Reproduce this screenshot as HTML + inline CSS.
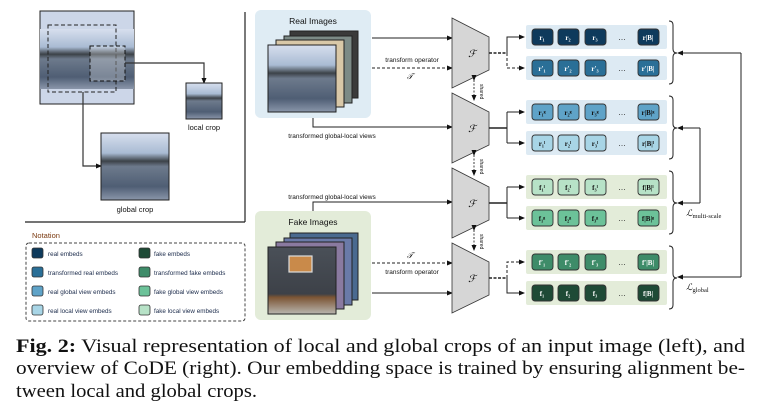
<!DOCTYPE html>
<html><head><meta charset="utf-8"><style>
html,body{margin:0;padding:0;background:#fff;}
svg{display:block;font-family:"Liberation Sans",sans-serif;}
.e{font-family:"Liberation Serif",serif;font-size:7px;font-weight:bold;text-anchor:middle;}
.s{font-size:6.3px;fill:#1a2a4a;}
</style></head><body>
<svg width="758" height="412" viewBox="0 0 758 412" xmlns="http://www.w3.org/2000/svg">
<defs>
<linearGradient id="lake" x1="0" y1="0" x2="0" y2="1">
<stop offset="0" stop-color="#d7dfee"/><stop offset="0.3" stop-color="#a9bbd3"/><stop offset="0.42" stop-color="#3c4248"/><stop offset="0.5" stop-color="#6d7a8c"/><stop offset="0.8" stop-color="#4f5e74"/><stop offset="1" stop-color="#8a96aa"/>
</linearGradient>
<linearGradient id="room" x1="0" y1="0" x2="0" y2="1">
<stop offset="0" stop-color="#4a5058"/><stop offset="0.7" stop-color="#3d4148"/><stop offset="0.75" stop-color="#7b5434"/><stop offset="1" stop-color="#b9b6b0"/>
</linearGradient>
<marker id="a" markerWidth="6" markerHeight="6" refX="5" refY="3" orient="auto" markerUnits="userSpaceOnUse"><path d="M0,0.5 L6,3 L0,5.5z" fill="#111"/></marker>
</defs>

<!-- LEFT PANEL -->
<rect x="40" y="11" width="94" height="93" fill="#ccd6e8" stroke="#222" stroke-width="1"/>
<rect x="40" y="29" width="94" height="60" fill="url(#lake)"/>
<rect x="48" y="25" width="68" height="67" fill="none" stroke="#222" stroke-dasharray="4,2.5" stroke-width="1"/>
<rect x="90" y="46" width="35" height="35" fill="rgba(255,255,255,0.25)" stroke="#111" stroke-dasharray="4,2.5" stroke-width="1"/>
<polyline points="125,63 204,63 204,83" fill="none" stroke="#333" stroke-width="1.2" marker-end="url(#a)"/>
<rect x="186" y="83" width="36" height="36" fill="url(#lake)" stroke="#222"/>
<text x="204" y="130" font-size="7.5" text-anchor="middle" fill="#111">local crop</text>
<polyline points="83,92 83,166 101,166" fill="none" stroke="#333" stroke-width="1.2" marker-end="url(#a)"/>
<rect x="101" y="133" width="68" height="67" fill="url(#lake)" stroke="#222"/>
<text x="135" y="212" font-size="7.5" text-anchor="middle" fill="#111">global crop</text>
<line x1="245" y1="12" x2="245" y2="222" stroke="#222" stroke-width="1.2"/>
<line x1="25" y1="222" x2="245" y2="222" stroke="#222" stroke-width="1.2"/>

<text x="32" y="238" font-size="7.5" fill="#7a3a10">Notation</text>
<rect x="26" y="243" width="219" height="78" rx="3" fill="none" stroke="#444" stroke-dasharray="3,2" stroke-width="1"/>
<g stroke="#333" stroke-width="0.8">
<rect x="32" y="248" width="11" height="10" rx="2" fill="#0e3a5c"/>
<rect x="32" y="267" width="11" height="10" rx="2" fill="#2a6f97"/>
<rect x="32" y="286" width="11" height="10" rx="2" fill="#5fa3c8"/>
<rect x="32" y="305" width="11" height="10" rx="2" fill="#a8d5e6"/>
<rect x="139" y="248" width="11" height="10" rx="2" fill="#1e4a36"/>
<rect x="139" y="267" width="11" height="10" rx="2" fill="#3e8c69"/>
<rect x="139" y="286" width="11" height="10" rx="2" fill="#6cc299"/>
<rect x="139" y="305" width="11" height="10" rx="2" fill="#b7e2c7"/>
</g>
<g class="s">
<text x="48" y="256">real embeds</text>
<text x="48" y="275">transformed real embeds</text>
<text x="48" y="294">real global view embeds</text>
<text x="48" y="313">real local view embeds</text>
<text x="154" y="256">fake embeds</text>
<text x="154" y="275">transformed fake embeds</text>
<text x="154" y="294">fake global view embeds</text>
<text x="154" y="313">fake local view embeds</text>
</g>

<!-- REAL IMAGES -->
<rect x="255" y="10" width="116" height="108" rx="6" fill="#dfecf4"/>
<text x="313" y="24" font-size="8.5" text-anchor="middle" fill="#111">Real Images</text>
<rect x="290" y="31" width="68" height="67" fill="#3a3a3a" stroke="#222"/>
<rect x="284" y="36" width="68" height="67" fill="#7c8a86" stroke="#222"/>
<rect x="276" y="40" width="68" height="67" fill="#d9c8a8" stroke="#222"/>
<rect x="268" y="45" width="68" height="67" fill="url(#lake)" stroke="#222"/>
<line x1="372" y1="38" x2="452" y2="38" stroke="#222" stroke-width="1" marker-end="url(#a)"/>
<line x1="372" y1="68" x2="452" y2="68" stroke="#222" stroke-width="1" stroke-dasharray="3,2" marker-end="url(#a)"/>
<text x="412" y="62" font-size="6.5" text-anchor="middle" fill="#111">transform operator</text>
<text x="410" y="79" font-size="8" font-style="italic" font-family="Liberation Serif,serif" text-anchor="middle">𝒯</text>
<polyline points="313,118 313,127 452,127" fill="none" stroke="#222" stroke-width="1" marker-end="url(#a)"/>
<text x="332" y="138" font-size="6.5" text-anchor="middle" fill="#111">transformed global-local views</text>

<!-- FAKE IMAGES -->
<polyline points="313,212 313,202 452,202" fill="none" stroke="#222" stroke-width="1" marker-end="url(#a)"/>
<text x="332" y="199" font-size="6.5" text-anchor="middle" fill="#111">transformed global-local views</text>
<rect x="255" y="211" width="116" height="109" rx="6" fill="#e3ecd9"/>
<text x="313" y="225" font-size="8.5" text-anchor="middle" fill="#111">Fake Images</text>
<rect x="290" y="233" width="68" height="67" fill="#4a6a90" stroke="#222"/>
<rect x="284" y="238" width="68" height="67" fill="#6a7aa8" stroke="#222"/>
<rect x="276" y="242" width="68" height="67" fill="#8a7aa0" stroke="#222"/>
<rect x="268" y="247" width="68" height="67" fill="url(#room)" stroke="#222"/>
<rect x="289" y="256" width="23" height="16" fill="#c98a4a" stroke="#ddd" stroke-width="1.2"/>
<line x1="372" y1="263" x2="452" y2="263" stroke="#222" stroke-width="1" stroke-dasharray="3,2" marker-end="url(#a)"/>
<line x1="372" y1="293" x2="452" y2="293" stroke="#222" stroke-width="1" marker-end="url(#a)"/>
<text x="410" y="258" font-size="8" font-style="italic" font-family="Liberation Serif,serif" text-anchor="middle">𝒯</text>
<text x="412" y="274" font-size="6.5" text-anchor="middle" fill="#111">transform operator</text>

<!-- ENCODERS -->
<g fill="#d6d6d6" stroke="#333" stroke-width="0.8">
<polygon points="452,18 489,37 489,70 452,88"/>
<polygon points="452,93 489,112 489,145 452,163"/>
<polygon points="452,168 489,187 489,220 452,238"/>
<polygon points="452,243 489,262 489,295 452,313"/>
</g>
<g font-family="Liberation Serif,serif" font-style="italic" font-size="10" text-anchor="middle">
<text x="472" y="57">ℱ</text><text x="472" y="132">ℱ</text><text x="472" y="207">ℱ</text><text x="472" y="282">ℱ</text>
</g>
<g stroke="#111" stroke-width="0.8" stroke-dasharray="2,1.5">
<line x1="474" y1="80" x2="474" y2="100" marker-start="url(#a)" marker-end="url(#a)"/>
<line x1="474" y1="155" x2="474" y2="175" marker-start="url(#a)" marker-end="url(#a)"/>
<line x1="474" y1="230" x2="474" y2="250" marker-start="url(#a)" marker-end="url(#a)"/>
</g>
<g font-size="5" fill="#111">
<text transform="translate(480,84) rotate(90)">shared</text>
<text transform="translate(480,159) rotate(90)">shared</text>
<text transform="translate(480,234) rotate(90)">shared</text>
</g>

<!-- BRANCHES -->
<g fill="none" stroke="#222" stroke-width="1">
<line x1="489" y1="53" x2="507" y2="53" stroke-dasharray="3,1.5" stroke-width="1.5"/>
<polyline points="507,53 507,37 524,37" marker-end="url(#a)"/>
<polyline points="507,53 507,68 524,68" stroke-dasharray="3,2" marker-end="url(#a)"/>
<line x1="489" y1="128" x2="507" y2="128" stroke-width="1.5"/>
<polyline points="507,112 507,143" /><line x1="507" y1="112" x2="524" y2="112" marker-end="url(#a)"/><line x1="507" y1="143" x2="524" y2="143" marker-end="url(#a)"/>
<line x1="489" y1="203" x2="507" y2="203" stroke-width="1.5"/>
<polyline points="507,187 507,218" /><line x1="507" y1="187" x2="524" y2="187" marker-end="url(#a)"/><line x1="507" y1="218" x2="524" y2="218" marker-end="url(#a)"/>
<line x1="489" y1="278" x2="507" y2="278" stroke-dasharray="3,1.5" stroke-width="1.5"/>
<polyline points="507,278 507,262 524,262" stroke-dasharray="3,2" marker-end="url(#a)"/>
<polyline points="507,278 507,293 524,293" marker-end="url(#a)"/>
</g>

<!-- ROWS -->
<g>
<rect x="526" y="25" width="141" height="24" rx="2" fill="#ddeaf3"/>
<rect x="526" y="56" width="141" height="24" rx="2" fill="#ddeaf3"/>
<rect x="526" y="100" width="141" height="24" rx="2" fill="#ddeaf3"/>
<rect x="526" y="131" width="141" height="24" rx="2" fill="#ddeaf3"/>
<rect x="526" y="175" width="141" height="24" rx="2" fill="#e3ecd9"/>
<rect x="526" y="206" width="141" height="24" rx="2" fill="#e3ecd9"/>
<rect x="526" y="250" width="141" height="24" rx="2" fill="#e3ecd9"/>
<rect x="526" y="281" width="141" height="24" rx="2" fill="#e3ecd9"/>
</g>
<g stroke="#333" stroke-width="0.9">
<g fill="#0e3a5c"><rect x="532" y="29" width="21" height="16" rx="3"/><rect x="558" y="29" width="21" height="16" rx="3"/><rect x="585" y="29" width="21" height="16" rx="3"/><rect x="638" y="29" width="21" height="16" rx="3"/></g>
<g fill="#2a6f97"><rect x="532" y="60" width="21" height="16" rx="3"/><rect x="558" y="60" width="21" height="16" rx="3"/><rect x="585" y="60" width="21" height="16" rx="3"/><rect x="638" y="60" width="21" height="16" rx="3"/></g>
<g fill="#5fa3c8"><rect x="532" y="104" width="21" height="16" rx="3"/><rect x="558" y="104" width="21" height="16" rx="3"/><rect x="585" y="104" width="21" height="16" rx="3"/><rect x="638" y="104" width="21" height="16" rx="3"/></g>
<g fill="#a8d5e6"><rect x="532" y="135" width="21" height="16" rx="3"/><rect x="558" y="135" width="21" height="16" rx="3"/><rect x="585" y="135" width="21" height="16" rx="3"/><rect x="638" y="135" width="21" height="16" rx="3"/></g>
<g fill="#b7e2c7"><rect x="532" y="179" width="21" height="16" rx="3"/><rect x="558" y="179" width="21" height="16" rx="3"/><rect x="585" y="179" width="21" height="16" rx="3"/><rect x="638" y="179" width="21" height="16" rx="3"/></g>
<g fill="#6cc299"><rect x="532" y="210" width="21" height="16" rx="3"/><rect x="558" y="210" width="21" height="16" rx="3"/><rect x="585" y="210" width="21" height="16" rx="3"/><rect x="638" y="210" width="21" height="16" rx="3"/></g>
<g fill="#3e8c69"><rect x="532" y="254" width="21" height="16" rx="3"/><rect x="558" y="254" width="21" height="16" rx="3"/><rect x="585" y="254" width="21" height="16" rx="3"/><rect x="638" y="254" width="21" height="16" rx="3"/></g>
<g fill="#1e4a36"><rect x="532" y="285" width="21" height="16" rx="3"/><rect x="558" y="285" width="21" height="16" rx="3"/><rect x="585" y="285" width="21" height="16" rx="3"/><rect x="638" y="285" width="21" height="16" rx="3"/></g>
</g>
<g font-size="8" text-anchor="middle" fill="#222">
<text x="622" y="40">…</text><text x="622" y="71">…</text><text x="622" y="115">…</text><text x="622" y="146">…</text>
<text x="622" y="190">…</text><text x="622" y="221">…</text><text x="622" y="265">…</text><text x="622" y="296">…</text>
</g>
<g class="e" fill="#fff">
<text x="542" y="40">r₁</text><text x="568" y="40">r₂</text><text x="595" y="40">r₃</text><text x="648" y="40">r|B|</text>
<text x="542" y="71">r′₁</text><text x="568" y="71">r′₂</text><text x="595" y="71">r′₃</text><text x="648" y="71">r′|B|</text>
</g>
<g class="e" fill="#111" font-size="6">
<text x="542" y="115">r₁ᵍ</text><text x="568" y="115">r₂ᵍ</text><text x="595" y="115">r₃ᵍ</text><text x="648" y="115">r|B|ᵍ</text>
<text x="542" y="146">r₁ˡ</text><text x="568" y="146">r₂ˡ</text><text x="595" y="146">r₃ˡ</text><text x="648" y="146">r|B|ˡ</text>
<text x="542" y="190">f₁ˡ</text><text x="568" y="190">f₂ˡ</text><text x="595" y="190">f₃ˡ</text><text x="648" y="190">f|B|ˡ</text>
<text x="542" y="221">f₁ᵍ</text><text x="568" y="221">f₂ᵍ</text><text x="595" y="221">f₃ᵍ</text><text x="648" y="221">f|B|ᵍ</text>
</g>
<g class="e" fill="#fff">
<text x="542" y="265">f′₁</text><text x="568" y="265">f′₂</text><text x="595" y="265">f′₃</text><text x="648" y="265">f′|B|</text>
<text x="542" y="296">f₁</text><text x="568" y="296">f₂</text><text x="595" y="296">f₃</text><text x="648" y="296">f|B|</text>
</g>

<!-- BRACES & LOSSES -->
<g fill="none" stroke="#222" stroke-width="1">
<path d="M669,21 Q673,21 673,25 L673,49 Q673,53 677,53 Q673,53 673,57 L673,80 Q673,84 669,84"/>
<path d="M669,96 Q673,96 673,100 L673,124 Q673,128 677,128 Q673,128 673,132 L673,155 Q673,159 669,159"/>
<path d="M669,171 Q673,171 673,175 L673,199 Q673,203 677,203 Q673,203 673,207 L673,230 Q673,234 669,234"/>
<path d="M669,246 Q673,246 673,250 L673,274 Q673,278 677,278 Q673,278 673,282 L673,305 Q673,309 669,309"/>
<polyline points="741,53 741,277"/>
<line x1="741" y1="53" x2="678" y2="53" marker-end="url(#a)"/>
<line x1="741" y1="277" x2="678" y2="277" marker-end="url(#a)"/>
<polyline points="700,128 700,203"/>
<line x1="700" y1="128" x2="678" y2="128" marker-end="url(#a)"/>
<line x1="700" y1="203" x2="678" y2="203" marker-end="url(#a)"/>
</g>
<g font-family="Liberation Serif,serif" font-size="9" fill="#111">
<text x="686" y="216"><tspan font-style="italic">ℒ</tspan><tspan font-size="6.5" dy="2">multi-scale</tspan></text>
<text x="686" y="290"><tspan font-style="italic">ℒ</tspan><tspan font-size="6.5" dy="2">global</tspan></text>
</g>

<!-- CAPTION -->
<g font-family="Liberation Serif,serif" font-size="19" fill="#111">
<text x="16" y="352" textLength="729" lengthAdjust="spacingAndGlyphs"><tspan font-weight="bold">Fig. 2:</tspan> Visual representation of local and global crops of an input image (left), and</text>
<text x="16" y="374" textLength="729" lengthAdjust="spacingAndGlyphs">overview of CoDE (right). Our embedding space is trained by ensuring alignment be-</text>
<text x="16" y="397" textLength="241" lengthAdjust="spacingAndGlyphs">tween local and global crops.</text>
</g>
</svg>
</body></html>
